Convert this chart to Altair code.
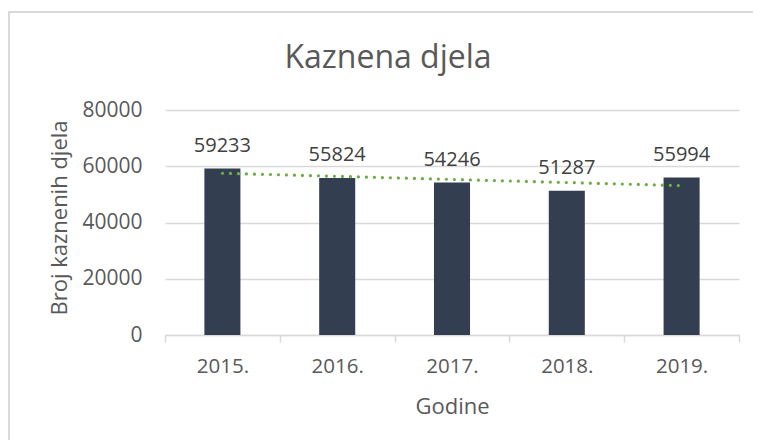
import json
import altair as alt
import pandas as pd

years = ["2015.", "2016.", "2017.", "2018.", "2019."]
values = [59233, 55824, 54246, 51287, 55994]
index = [1, 2, 3, 4, 5]
y_ticks = [0, 20000, 40000, 60000, 80000]

df = pd.DataFrame({"Godina": years, "Broj": values, "idx": index})

FONT = "Open Sans"
GRAY = "#595959"
LINE = "#D9D9D9"

x_enc = alt.X(
    "Godina:N",
    sort=years,
    scale=alt.Scale(paddingInner=0, paddingOuter=0),
    axis=alt.Axis(
        title="Godine",
        labelAngle=0,
        labelFont=FONT,
        labelFontSize=20.5,
        labelColor=GRAY,
        labelPadding=14,
        domainColor=LINE,
        domainWidth=1.5,
        tickColor=LINE,
        tickWidth=1.5,
        tickSize=7,
        tickBand="extent",
        grid=False,
        titleFont=FONT,
        titleFontSize=22,
        titleFontWeight="normal",
        titleColor=GRAY,
        titleBaseline="alphabetic",
        titleY=78,
    ),
)

y_enc = alt.Y(
    "Broj:Q",
    scale=alt.Scale(domain=[0, 80000], nice=False),
    axis=alt.Axis(
        title="Broj kaznenih djela",
        values=y_ticks,
        format="d",
        labelFont=FONT,
        labelFontSize=21,
        labelColor=GRAY,
        labelPadding=23,
        domain=False,
        ticks=False,
        grid=True,
        gridColor=LINE,
        gridWidth=1.5,
        titleFont=FONT,
        titleFontSize=22,
        titleFontWeight="normal",
        titleColor=GRAY,
        titleBaseline="alphabetic",
        titleAlign="center",
        titleX=-99,
        titleY=107.5,
    ),
)

base = alt.Chart(df)

bars = base.mark_bar(color="#333F50", width=alt.RelativeBandSize(0.314)).encode(
    x=x_enc, y=y_enc
)

labels = base.mark_text(
    font=FONT, fontSize=20, color="#404040", dy=-16.5, baseline="alphabetic"
).encode(x=alt.X("Godina:N", sort=years), y="Broj:Q", text="Broj:Q")

trend = (
    base.transform_regression("idx", "Broj")
    .transform_calculate(
        Godina=f"{json.dumps(years)}[round(datum.idx) - 1]"
    )
    .mark_line(
        color="#70AD47",
        strokeWidth=3.2,
        strokeDash=[0.1, 7.9],
        strokeCap="round",
    )
    .encode(x=alt.X("Godina:N", sort=years), y="Broj:Q")
)

border = base.mark_rect(
    fill=None, fillOpacity=0, stroke=LINE, strokeWidth=2, clip=False
).encode(
    x=alt.value(-156.5), x2=alt.value(640), y=alt.value(-98), y2=alt.value(360)
)

chart = (
    alt.layer(border, bars, trend, labels)
    .properties(
        width=574,
        height=225,
        autosize=alt.AutoSizeParams(type="none"),
        padding={"left": 157, "top": 102, "right": 14, "bottom": 105},
        title=alt.TitleParams(
            "Kaznena djela",
            font=FONT,
            fontSize=32,
            fontWeight="normal",
            color=GRAY,
            anchor="middle",
            frame="group",
            dx=-64,
            baseline="alphabetic",
            offset=-89,
        ),
        background="white",
    )
    .configure_view(stroke=None)
)

chart.save("out.html", embed_options={"renderer": "svg", "actions": False})
